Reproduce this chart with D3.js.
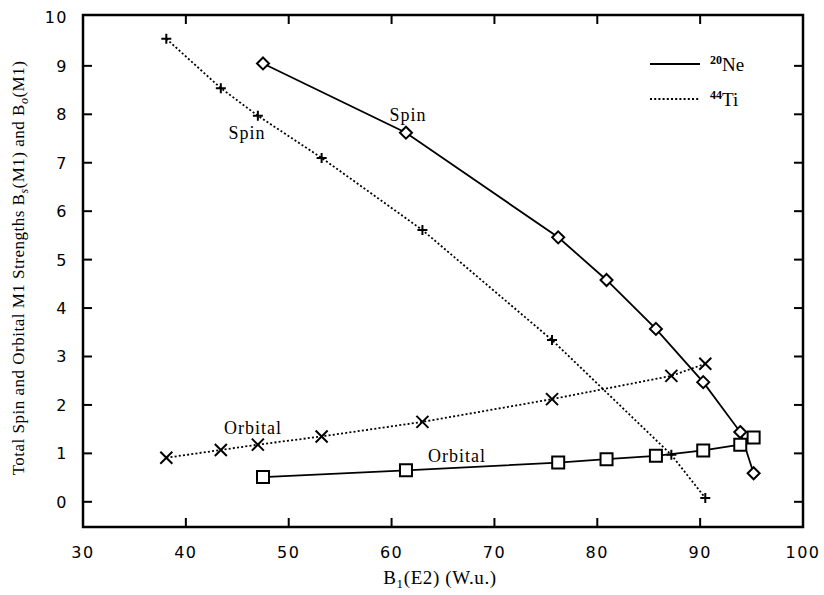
<!DOCTYPE html>
<html>
<head>
<meta charset="utf-8">
<script src="https://cdn.jsdelivr.net/npm/d3@7"></script>
<style>
  body { margin: 0; background: #fff; }
  svg text { fill: #000; }
</style>
</head>
<body>
<div id="chart"></div>
<script>
// B1(E2) values for each nucleus
const neX = [47.5, 61.4, 76.2, 80.9, 85.7, 90.3, 93.9, 95.2];
const neSpin = [9.05, 7.62, 5.46, 4.58, 3.57, 2.47, 1.44, 0.59];
const neOrbital = [0.51, 0.65, 0.81, 0.88, 0.95, 1.06, 1.18, 1.33];

const tiX = [38.1, 43.4, 47.0, 53.2, 63.0, 75.6, 87.2, 90.5];
const tiSpin = [9.56, 8.54, 7.97, 7.10, 5.61, 3.34, 0.97, 0.08];
const tiOrbital = [0.91, 1.07, 1.18, 1.35, 1.65, 2.12, 2.60, 2.85];

const xTicks = [30, 40, 50, 60, 70, 80, 90, 100];
const yTicks = [0, 1, 2, 3, 4, 5, 6, 7, 8, 9, 10];

const width = 824;
const height = 595;
const plotL = 83, plotR = 803, plotT = 15, plotB = 527;

const svg = d3.select("#chart").append("svg")
  .attr("width", width)
  .attr("height", height);

const x = d3.scaleLinear().domain([30, 100]).range([plotL, plotR]);
const y = d3.scaleLinear().domain([-0.52, 10.05]).range([plotB, plotT]);

const serif = "'Liberation Serif', 'DejaVu Serif', serif";
const sans = "'DejaVu Sans', 'Liberation Sans', sans-serif";

// frame
svg.append("rect")
  .attr("x", plotL).attr("y", plotT)
  .attr("width", plotR - plotL).attr("height", plotB - plotT)
  .attr("fill", "none").attr("stroke", "#000").attr("stroke-width", 2.5);

// ticks on all four sides, pointing inward
const tickLen = 9;
const axisG = svg.append("g").attr("stroke", "#000").attr("stroke-width", 2);
xTicks.slice(1, -1).forEach((t) => {
  axisG.append("line").attr("x1", x(t)).attr("x2", x(t)).attr("y1", plotB).attr("y2", plotB - tickLen);
  axisG.append("line").attr("x1", x(t)).attr("x2", x(t)).attr("y1", plotT).attr("y2", plotT + tickLen);
});
yTicks.slice(0, -1).forEach((t) => {
  axisG.append("line").attr("x1", plotL).attr("x2", plotL + tickLen).attr("y1", y(t)).attr("y2", y(t));
  axisG.append("line").attr("x1", plotR).attr("x2", plotR - tickLen).attr("y1", y(t)).attr("y2", y(t));
});

// tick labels
svg.append("g").selectAll("text").data(xTicks).enter().append("text")
  .attr("x", (d) => x(d)).attr("y", 558)
  .attr("text-anchor", "middle")
  .attr("font-family", sans).attr("font-size", 16).attr("letter-spacing", 1.5)
  .text((d) => d);

svg.append("g").selectAll("text").data(yTicks).enter().append("text")
  .attr("x", 68).attr("y", (d) => Math.max(y(d), 14) + 6)
  .attr("text-anchor", "end")
  .attr("font-family", sans).attr("font-size", 16).attr("letter-spacing", 1.5)
  .text((d) => d);

// axis titles
const xt = svg.append("text")
  .attr("x", 440).attr("y", 584)
  .attr("text-anchor", "middle")
  .attr("font-family", serif).attr("font-size", 19).attr("letter-spacing", 0.6);
xt.append("tspan").text("B");
xt.append("tspan").attr("font-size", 13).attr("dy", 4).text("1");
xt.append("tspan").attr("dy", -4).text("(E2) (W.u.)");

const yt = svg.append("text")
  .attr("transform", "translate(24,268) rotate(-90)")
  .attr("text-anchor", "middle")
  .attr("font-family", serif).attr("font-size", 17).attr("letter-spacing", 0.5);
yt.append("tspan").text("Total Spin and Orbital M1 Strengths B");
yt.append("tspan").attr("font-size", 12).attr("dy", 4).attr("font-style", "italic").text("s");
yt.append("tspan").attr("dy", -4).text("(M1) and B");
yt.append("tspan").attr("font-size", 12).attr("dy", 4).attr("font-style", "italic").text("o");
yt.append("tspan").attr("dy", -4).text("(M1)");

// lines
const line = (xs) => d3.line().x((d, i) => x(xs[i])).y((d) => y(d));
const series = [
  { xs: neX, ys: neSpin, dash: null, marker: "diamond" },
  { xs: neX, ys: neOrbital, dash: null, marker: "square" },
  { xs: tiX, ys: tiSpin, dash: "2,2.2", marker: "plus" },
  { xs: tiX, ys: tiOrbital, dash: "2,2.2", marker: "cross" },
];

series.forEach((s) => {
  svg.append("path")
    .attr("d", line(s.xs)(s.ys))
    .attr("fill", "none")
    .attr("stroke", "#000")
    .attr("stroke-width", 1.8)
    .attr("stroke-dasharray", s.dash);
});

// markers
const markerPath = {
  diamond: "M0,-6L6,0L0,6L-6,0Z",
  square: "M-6,-6H6V6H-6Z",
  plus: "M-5,0H5M0,-5V5",
  cross: "M-6,-6L6,6M-6,6L6,-6",
};
series.forEach((s) => {
  svg.append("g").selectAll("path").data(s.ys).enter().append("path")
    .attr("transform", (d, i) => `translate(${x(s.xs[i])},${y(d)})`)
    .attr("d", markerPath[s.marker])
    .attr("fill", s.marker === "diamond" || s.marker === "square" ? "#fff" : "none")
    .attr("stroke", "#000")
    .attr("stroke-width", 2);
});

// series labels
const labels = [
  { text: "Spin", cx: 408, cy: 121 },
  { text: "Spin", cx: 247, cy: 139 },
  { text: "Orbital", cx: 253, cy: 434 },
  { text: "Orbital", cx: 457, cy: 462 },
];
svg.append("g").selectAll("text").data(labels).enter().append("text")
  .attr("x", (d) => d.cx).attr("y", (d) => d.cy)
  .attr("text-anchor", "middle")
  .attr("font-family", serif).attr("font-size", 18).attr("letter-spacing", 1)
  .text((d) => d.text);

// legend
const legend = [
  { sup: "20", name: "Ne", dash: null, y: 64 },
  { sup: "44", name: "Ti", dash: "2,2.2", y: 99 },
];
legend.forEach((l) => {
  svg.append("line")
    .attr("x1", 650).attr("x2", 700).attr("y1", l.y).attr("y2", l.y)
    .attr("stroke", "#000").attr("stroke-width", 1.8)
    .attr("stroke-dasharray", l.dash);
  const t = svg.append("text")
    .attr("x", 710).attr("y", l.y + 7)
    .attr("font-family", serif).attr("font-size", 19);
  t.append("tspan").attr("font-size", 12).attr("font-weight", "bold").attr("dy", -7).text(l.sup);
  t.append("tspan").attr("dy", 7).text(l.name);
});
</script>
</body>
</html>
